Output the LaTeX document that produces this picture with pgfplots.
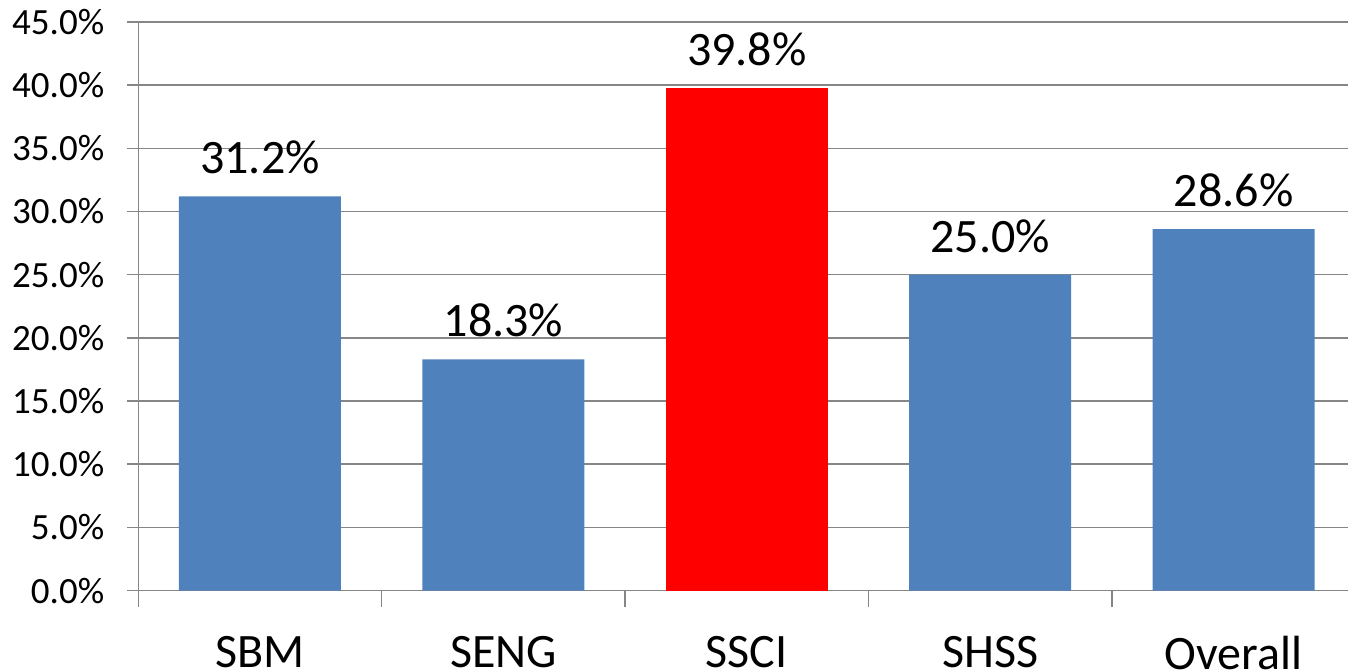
\documentclass[border=0pt]{standalone}
\usepackage{pgfplots}
\pgfplotsset{compat=1.18}
\usepackage{fontspec}
\setmainfont{Carlito}
\definecolor{barblue}{RGB}{79,129,189}
\definecolor{gridgray}{RGB}{134,134,134}
\begin{document}
\begin{tikzpicture}
\useasboundingbox (-69.15pt,-40.7pt) rectangle (604.85pt,295.3pt);
\clip (-69.15pt,-40.7pt) rectangle (604.85pt,295.3pt);
\begin{axis}[
  at={(0pt,0pt)}, anchor=south west,
  scale only axis, width=608.5pt, height=284.3pt,
  xmin=-0.5, xmax=4.5, ymin=0, ymax=45,
  axis x line*=bottom, axis y line*=left,
  axis line style={draw=gridgray, line width=0.75pt, -},
  ytick={0,5,...,45}, ymajorgrids,
  grid style={gridgray, line width=0.75pt},
  /pgf/number format/assume math mode=true,
  yticklabel={\pgfmathprintnumber[fixed,fixed zerofill,precision=1]{\tick}\%},
  yticklabel style={font=\fontsize{18.5}{20}\selectfont, xshift=-8pt},
  xtick={0,...,4}, xticklabels={SBM,SENG,SSCI,SHSS,Overall},
  xticklabel style={font=\fontsize{24}{26}\selectfont, yshift=-14pt},
  minor xtick={-0.5,0.5,...,4.5},
  tick align=outside,
  major x tick style={draw=none},
  minor x tick style={draw=gridgray, line width=0.75pt},
  major tick length=5.5pt, minor tick length=8.3pt,
  y tick style={draw=gridgray, line width=0.75pt},
  ybar, bar width=81pt, bar shift=0pt,
  nodes near coords={\pgfmathprintnumber[fixed,fixed zerofill,precision=1]{\pgfplotspointmeta}\%},
  nodes near coords style={font=\fontsize{24}{26}\selectfont, yshift=7.5pt, text=black},
]
\addplot[fill=barblue, draw=none] coordinates {(0,31.2) (1,18.3) (3,25.0) (4,28.6)};
\addplot[fill=red, draw=none] coordinates {(2,39.8)};
\end{axis}
\end{tikzpicture}
\end{document}
